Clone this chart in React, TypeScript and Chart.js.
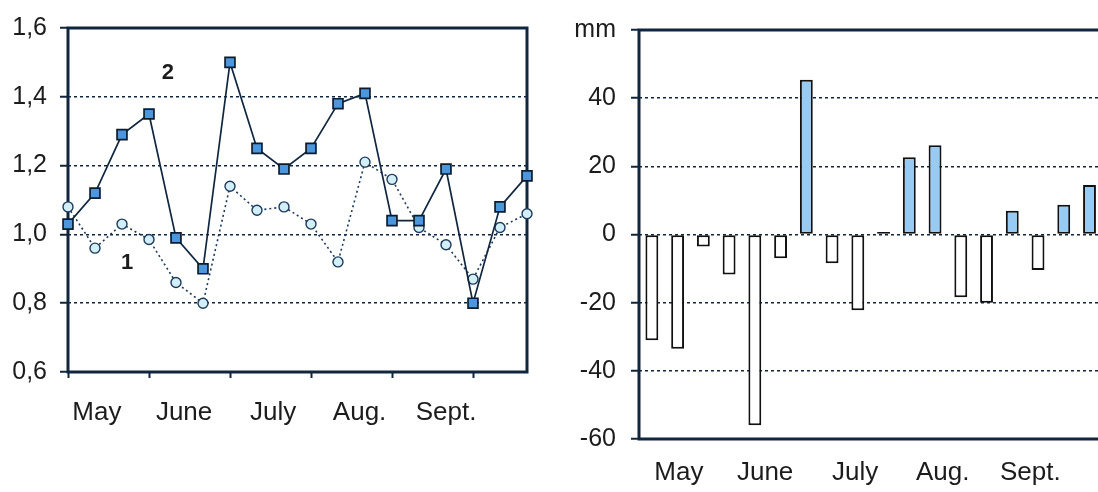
import React, { useEffect, useRef } from 'react';
import { Chart, registerables } from 'chart.js';

Chart.register(...registerables);

// ---------- data ----------
const pointIndex = [0, 1, 2, 3, 4, 5, 6, 7, 8, 9, 10, 11, 12, 13, 14, 15, 16, 17];
const series1 = [1.08, 0.96, 1.03, 0.985, 0.86, 0.8, 1.14, 1.07, 1.08, 1.03, 0.92, 1.21, 1.16, 1.02, 0.97, 0.87, 1.02, 1.06];
const series2 = [1.03, 1.12, 1.29, 1.35, 0.99, 0.9, 1.5, 1.25, 1.19, 1.25, 1.38, 1.41, 1.04, 1.04, 1.19, 0.8, 1.08, 1.17];
const monthNames = ['May', 'June', 'July', 'Aug.', 'Sept.'];
const leftMonthPos = [1.07, 4.3, 7.6, 10.8, 14.0];
const leftTickMarks = [0, 3, 6, 9, 12, 15];
const leftYTicks = [0.6, 0.8, 1.0, 1.2, 1.4, 1.6];
const leftYLabels = ['0,6', '0,8', '1,0', '1,2', '1,4', '1,6'];
const seriesTags = ['2', '1'];
const seriesTagX = [3.7, 2.19];
const seriesTagY = [1.47, 0.917];

const rainDev = [-31, -33.5, -3.5, -11.7, -56, -7, 45.4, -8.4, -22.2, 0.7, 22.7, 26.2, -18.4, -20, 7, -10.4, 8.7, 14.5];
const rightMonthPos = [1.05, 4.4, 7.9, 11.3, 14.7];
const rightYTicks = [-60, -40, -20, 0, 20, 40, 60];
const rightYLabels = ['-60', '-40', '-20', '0', '20', '40', 'mm'];

// ---------- styles ----------
const NAVY = '#10263f';
const TEXT = '#1c1c1c';
const FONT = "'Liberation Sans', Arial, sans-serif";

const framePlugin = {
  id: 'frame',
  beforeDatasetsDraw(chart: any, _args: any, opts: any) {
    const { ctx, chartArea: a } = chart;
    const sides: string = opts.sides || 'tlbr';
    ctx.save();
    ctx.strokeStyle = opts.color || NAVY;
    ctx.lineWidth = opts.width || 3;
    ctx.lineCap = 'square';
    ctx.beginPath();
    if (sides.includes('t')) { ctx.moveTo(a.left, a.top); ctx.lineTo(a.right, a.top); }
    if (sides.includes('r')) { ctx.moveTo(a.right, a.top); ctx.lineTo(a.right, a.bottom); }
    if (sides.includes('b')) { ctx.moveTo(a.left, a.bottom); ctx.lineTo(a.right, a.bottom); }
    if (sides.includes('l')) { ctx.moveTo(a.left, a.top); ctx.lineTo(a.left, a.bottom); }
    ctx.stroke();
    ctx.restore();
  },
};

const tagPlugin = {
  id: 'tags',
  afterDatasetsDraw(chart: any, _args: any, opts: any) {
    if (!opts || !opts.items) return;
    const { ctx } = chart;
    const xs = chart.scales.x;
    const ys = chart.scales.y;
    ctx.save();
    ctx.fillStyle = TEXT;
    ctx.font = `bold 22px ${FONT}`;
    ctx.textAlign = 'center';
    ctx.textBaseline = 'middle';
    opts.items.forEach((it: any) => {
      ctx.fillText(it.text, xs.getPixelForValue(it.x), ys.getPixelForValue(it.y));
    });
    ctx.restore();
  },
};

export default function App() {
  const leftRef = useRef<HTMLCanvasElement>(null);
  const rightRef = useRef<HTMLCanvasElement>(null);

  useEffect(() => {
    const leftCanvas = leftRef.current!;
    const rightCanvas = rightRef.current!;

    const leftXTicks = [...leftTickMarks, ...leftMonthPos].sort((a, b) => a - b);

    const left = new Chart(leftCanvas, {
      type: 'line',
      data: {
        datasets: [
          {
            label: '2',
            data: pointIndex.map((x, i) => ({ x, y: series2[i] })),
            borderColor: NAVY,
            borderWidth: 1.7,
            pointStyle: 'rect',
            pointRadius: 7,
            pointBackgroundColor: '#4b96dc',
            pointBorderColor: '#0b1c30',
            pointBorderWidth: 1.7,
            tension: 0,
            clip: false as any,
          },
          {
            label: '1',
            data: pointIndex.map((x, i) => ({ x, y: series1[i] })),
            borderColor: '#1d3a5c',
            borderWidth: 1.6,
            borderDash: [2, 3],
            pointStyle: 'circle',
            pointRadius: 5,
            pointBackgroundColor: '#d2eff8',
            pointBorderColor: '#1d3a5c',
            pointBorderWidth: 1.4,
            tension: 0,
            clip: false as any,
          },
        ],
      },
      options: {
        animation: false,
        responsive: false,
        devicePixelRatio: 1,
        events: [],
        layout: { padding: { top: 25, right: 22, left: 0, bottom: 0 } },
        plugins: {
          legend: { display: false },
          tooltip: { enabled: false },
          frame: { sides: 'tlbr', color: NAVY, width: 3 },
          tags: { items: seriesTags.map((t, i) => ({ text: t, x: seriesTagX[i], y: seriesTagY[i] })) },
        } as any,
        scales: {
          x: {
            type: 'linear',
            min: 0,
            max: 17,
            afterBuildTicks: (s: any) => { s.ticks = leftXTicks.map((v) => ({ value: v })); },
            afterFit: (s: any) => { s.height = 120; },
            border: { display: false },
            grid: {
              drawOnChartArea: false,
              drawTicks: true,
              tickLength: 6,
              tickWidth: 2,
              tickColor: (c: any) => (leftTickMarks.includes(c.tick?.value) ? NAVY : 'rgba(0,0,0,0)'),
            },
            ticks: {
              autoSkip: false,
              maxRotation: 0,
              padding: 19,
              color: TEXT,
              font: { family: FONT, size: 26 },
              callback: (v: any) => {
                const k = leftMonthPos.indexOf(v);
                return k >= 0 ? monthNames[k] : '';
              },
            },
          },
          y: {
            type: 'linear',
            min: 0.6,
            max: 1.6,
            afterBuildTicks: (s: any) => { s.ticks = leftYTicks.map((v) => ({ value: v })); },
            afterFit: (s: any) => { s.width = 68; },
            border: { display: false, dash: [3, 3] },
            grid: {
              color: NAVY,
              lineWidth: 1.5,
              drawTicks: true,
              tickLength: 8,
              tickWidth: 2,
              tickColor: NAVY,
            },
            ticks: {
              padding: 13,
              color: TEXT,
              font: { family: FONT, size: 25 },
              callback: (v: any) => {
                const k = leftYTicks.findIndex((t) => Math.abs(t - v) < 1e-6);
                return k >= 0 ? leftYLabels[k] : '';
              },
            },
          },
        },
      },
      plugins: [framePlugin, tagPlugin],
    } as any);

    const right = new Chart(rightCanvas, {
      type: 'bar',
      data: {
        datasets: [
          {
            data: pointIndex.map((x, i) => ({ x, y: rainDev[i] })),
            backgroundColor: rainDev.map((v) => (v > 0 ? '#97cbf3' : '#ffffff')),
            borderColor: '#111111',
            borderWidth: 2,
            borderSkipped: false,
            barPercentage: 0.5,
            categoryPercentage: 1,
          },
        ],
      },
      options: {
        animation: false,
        responsive: false,
        devicePixelRatio: 1,
        events: [],
        layout: { padding: { top: 25, right: 0, left: 0, bottom: 0 } },
        plugins: {
          legend: { display: false },
          tooltip: { enabled: false },
          frame: { sides: 'tlb', color: NAVY, width: 3 },
        } as any,
        scales: {
          x: {
            type: 'linear',
            min: -0.5,
            max: 17.33,
            offset: false,
            afterBuildTicks: (s: any) => { s.ticks = rightMonthPos.map((v) => ({ value: v })); },
            afterFit: (s: any) => { s.height = 53; },
            border: { display: false },
            grid: { drawOnChartArea: false, drawTicks: false },
            ticks: {
              autoSkip: false,
              maxRotation: 0,
              padding: 18,
              color: TEXT,
              font: { family: FONT, size: 26 },
              callback: (v: any) => {
                const k = rightMonthPos.indexOf(v);
                return k >= 0 ? monthNames[k] : '';
              },
            },
          },
          y: {
            type: 'linear',
            min: -60,
            max: 60,
            afterBuildTicks: (s: any) => { s.ticks = rightYTicks.map((v) => ({ value: v })); },
            afterFit: (s: any) => { s.width = 90; },
            border: { display: false, dash: [3, 3] },
            grid: {
              color: NAVY,
              lineWidth: 1.5,
              drawTicks: true,
              tickLength: 8,
              tickWidth: 2,
              tickColor: NAVY,
            },
            ticks: {
              padding: 15,
              color: TEXT,
              font: { family: FONT, size: 25 },
              callback: (v: any) => {
                const k = rightYTicks.indexOf(v);
                return k >= 0 ? rightYLabels[k] : '';
              },
            },
          },
        },
      },
      plugins: [framePlugin],
    } as any);

    return () => {
      left.destroy();
      right.destroy();
    };
  }, []);

  return (
    <div
      style={{
        position: 'fixed',
        left: 0,
        top: 0,
        width: 1098,
        height: 492,
        overflow: 'hidden',
        background: '#ffffff',
      }}
    >
      <canvas
        ref={leftRef}
        width={549}
        height={492}
        style={{ position: 'absolute', left: 0, top: 0, width: 549, height: 492 }}
      />
      <canvas
        ref={rightRef}
        width={549}
        height={492}
        style={{ position: 'absolute', left: 549, top: 0, width: 549, height: 492 }}
      />
    </div>
  );
}
